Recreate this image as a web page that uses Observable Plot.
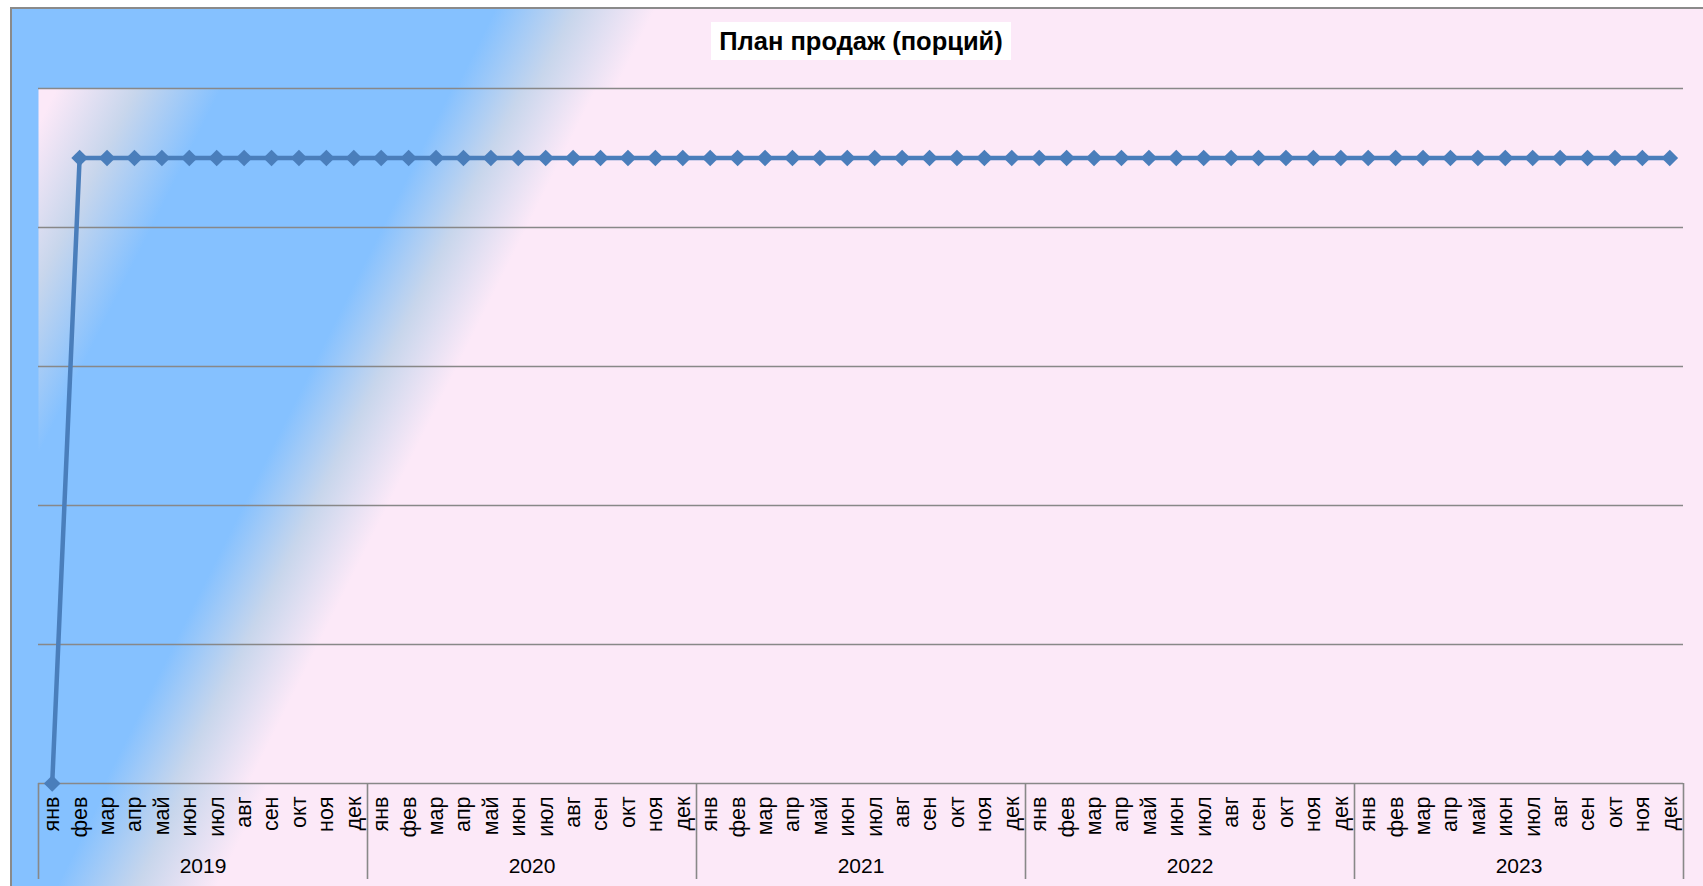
<!DOCTYPE html>
<html>
<head>
<meta charset="utf-8">
<script src="https://cdn.jsdelivr.net/npm/d3@7"></script>
<script src="https://cdn.jsdelivr.net/npm/@observablehq/plot@0.6"></script>
<style>
  html, body { margin: 0; padding: 0; background: #ffffff; }
  #wrap { position: relative; width: 1703px; height: 886px; overflow: hidden; font-family: "Liberation Sans", Arial, sans-serif; }
  #chart { position: absolute; left: 0; top: 0; }
  #title { position: absolute; left: 711px; top: 22px; width: 300px; height: 38px; line-height: 38px;
           background: #ffffff; text-align: center; font-weight: bold; font-size: 25.5px; color: #000; }
</style>
</head>
<body>
<div id="wrap">
  <div id="chart"></div>
  <div id="title">План продаж (порций)</div>
</div>
<script>
const title = "План продаж (порций)";
const years = ["2019", "2020", "2021", "2022", "2023"];
const months = ["янв", "фев", "мар", "апр", "май", "июн", "июл", "авг", "сен", "окт", "ноя", "дек"];
const values = [
  0, 450, 450, 450, 450, 450, 450, 450, 450, 450, 450, 450,
  450, 450, 450, 450, 450, 450, 450, 450, 450, 450, 450, 450,
  450, 450, 450, 450, 450, 450, 450, 450, 450, 450, 450, 450,
  450, 450, 450, 450, 450, 450, 450, 450, 450, 450, 450, 450,
  450, 450, 450, 450, 450, 450, 450, 450, 450, 450, 450, 450
];
const gridTicks = [100, 200, 300, 400, 500];

const data = values.map((v, i) => ({idx: i, value: v, month: months[i % 12], year: years[Math.floor(i / 12)]}));
const yearLabels = years.map((y, k) => ({year: y, mid: k * months.length + (months.length - 1) / 2}));
const boundaries = d3.range(years.length + 1).map(k => k * months.length - 0.5);

const W = 1703, H = 886;
const mTop = 88, mBottom = 103, mLeft = 38, mRight = 20;
const lineColor = "#4A7EBB";
const gridColor = "#888888";

const plot = Plot.plot({
  width: W,
  height: H,
  marginTop: mTop,
  marginBottom: mBottom,
  marginLeft: mLeft,
  marginRight: mRight,
  style: {background: "transparent", fontFamily: "Liberation Sans, Arial, sans-serif"},
  x: {type: "linear", domain: [-0.5, values.length - 0.5]},
  y: {type: "linear", domain: [0, 500]},
  marks: [
    Plot.frame({fill: "url(#plotGrad)", stroke: null}),
    Plot.gridY(gridTicks, {stroke: gridColor, strokeOpacity: 1, strokeWidth: 1.6}),
    Plot.ruleY([0], {stroke: gridColor, strokeWidth: 1.6}),
    Plot.ruleX(boundaries, {x: d => d, stroke: gridColor, strokeWidth: 1.6, insetTop: H - mTop - mBottom, insetBottom: -96}),
    Plot.axisX(d3.range(values.length), {
      tickFormat: i => months[i % 12],
      tickRotate: -90,
      tickSize: 0,
      tickPadding: 13,
      fontSize: 21.5,
      fill: "#000",
      label: null
    }),
    Plot.axisY({ticks: [], label: null, tickSize: 0}),
    Plot.text(yearLabels, {x: "mid", text: "year", frameAnchor: "bottom", dy: 89, fontSize: 21, fill: "#000"}),
    Plot.line(data, {x: "idx", y: "value", stroke: lineColor, strokeWidth: 4.5, curve: "linear"}),
    Plot.dot(data, {x: "idx", y: "value", symbol: "diamond2", r: 7.5, fill: lineColor, stroke: null})
  ]
});

// gradient defs and chart-area background
const svg = d3.select(plot);
const defs = svg.insert("defs", ":first-child");
function grad(id, stops) {
  const g = defs.append("linearGradient").attr("id", id).attr("gradientUnits", "userSpaceOnUse")
    .attr("x1", 0).attr("y1", 0).attr("x2", 1600).attr("y2", 800);
  stops.forEach(([o, c]) => g.append("stop").attr("offset", o).attr("stop-color", c));
}
const blue = "#85C1FF", pink = "#FCE9F8", mid = "#C8D6EC";
grad("plotGrad", [[0.05, pink], [0.09, mid], [0.1325, blue], [0.2475, blue], [0.2835, mid], [0.32, pink], [1, pink]]);
grad("chartGrad", [[0, blue], [0.25, blue], [0.29, mid], [0.33, pink], [1, pink]]);
svg.insert("rect", "defs + *").attr("x", 11).attr("y", 8).attr("width", W).attr("height", H)
  .attr("fill", "url(#chartGrad)").attr("stroke", "#8A8A8A").attr("stroke-width", 2);

document.getElementById("chart").appendChild(plot);
</script>
</body>
</html>
